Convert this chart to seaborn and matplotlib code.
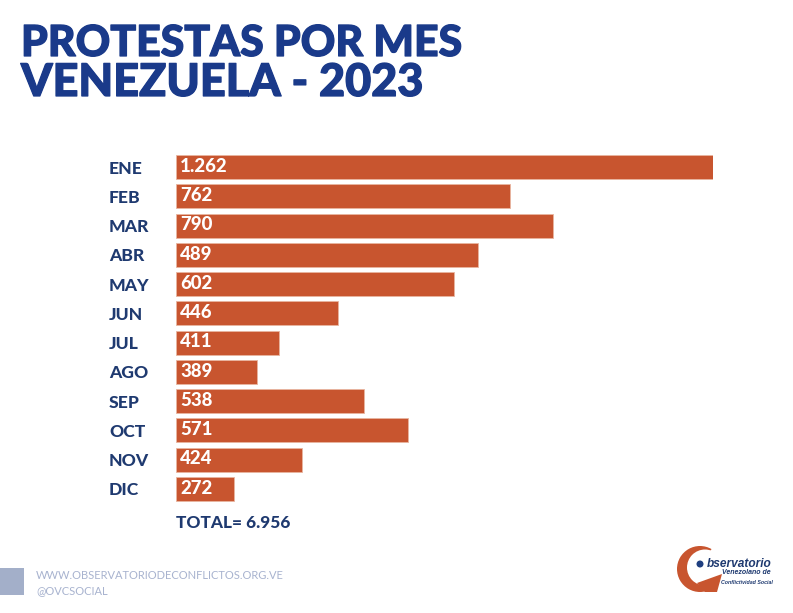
import matplotlib
matplotlib.use("Agg")
import matplotlib.pyplot as plt
import matplotlib.patheffects as pe
from matplotlib.patches import Rectangle, Wedge, Circle, Polygon
import pandas as pd
import seaborn as sns

# ---------------- DATA ----------------
months = ["ENE", "FEB", "MAR", "ABR", "MAY", "JUN", "JUL", "AGO", "SEP", "OCT", "NOV", "DIC"]
# printed numbers
printed = ["1.262", "762", "790", "489", "602", "446", "411", "389", "538", "571", "424", "272"]
# bar lengths as drawn in the picture (they do not follow the printed numbers), ENE = 1262
drawn = [1262, 785, 886, 710, 653, 382, 243, 190, 442, 545, 296, 137]

NAVY = "#1a3a8a"
DARK = "#1f3a70"
ORANGE = "#c8552f"
PALE = "#a8b3cf"
W, H = 793, 613


def fx(px):
    return px / W


def fy(px):
    return 1 - px / H


# ---------------- PLOT ----------------
sns.set_theme(style="white")
plt.rcParams["font.family"] = ["Lato", "DejaVu Sans"]

df = pd.DataFrame({"month": months, "drawn": drawn})

fig = plt.figure(figsize=(7.93, 6.13), dpi=100, facecolor="white")
ax = fig.add_axes([fx(175.6), fy(503.6), fx(537.4), 351.2 / H])

sns.barplot(data=df, x="drawn", y="month", color=ORANGE, saturation=1, width=0.82, ax=ax,
            edgecolor="#e8b5a0", linewidth=0.6)
ax.set_xlim(0, 1262)
ax.set_ylim(11.5, -0.5)
ax.set_xlabel("")
ax.set_ylabel("")
ax.set_xticks([])
sns.despine(ax=ax, left=True, bottom=True)

# month names left aligned, away from the bars
ax.tick_params(axis="y", length=0, pad=47.9)
for lab in ax.get_yticklabels():
    lab.set_ha("left")
    lab.set_fontsize(12.6)
    lab.set_fontweight("black")
    lab.set_color(DARK)

# numbers inside the bars
for i, txt in enumerate(printed):
    ax.annotate(txt, xy=(0, i), xytext=(3.2, 0.6), textcoords="offset points",
                ha="left", va="center", color="white", fontsize=13.4, fontweight="black")

# ---------------- TEXTS ----------------
thick = [pe.withStroke(linewidth=0.9, foreground=NAVY)]
fig.text(fx(21), fy(56), "PROTESTAS POR MES", color=NAVY, fontsize=30.8, fontweight="black",
         va="baseline", path_effects=thick)
fig.text(fx(21), fy(96), "VENEZUELA - 2023", color=NAVY, fontsize=32.4, fontweight="black",
         va="baseline", path_effects=thick)
fig.text(fx(176), fy(528.5), "TOTAL= 6.956", color=DARK, fontsize=12.4, fontweight="black", va="baseline")

fig.text(fx(36), fy(579), "WWW.OBSERVATORIODECONFLICTOS.ORG.VE", color=PALE, fontsize=8.05, va="baseline")
fig.text(fx(36), fy(594), "@OVCSOCIAL", color=PALE, fontsize=8.05, va="baseline")
fig.add_artist(Rectangle((0, fy(595)), fx(24), 27 / H, transform=fig.transFigure, color="#a3afc9", lw=0))

# ---------------- LOGO ----------------
logo = fig.add_axes([0, 0, 1, 1], facecolor="none")
logo.set_xlim(0, W)
logo.set_ylim(H, 0)
logo.axis("off")
logo.add_patch(Wedge((700, 569), 23, 60, 300, color=ORANGE, lw=0))
logo.add_patch(Circle((705, 567.5), 18, color="white", lw=0))
logo.add_patch(Polygon([[697, 583], [722, 574], [717, 592], [705, 592]], color=ORANGE, lw=0))
logo.add_patch(Circle((700, 564), 3.5, color="#1f3f80", lw=0))
logo.text(707, 567, "bservatorio", color=DARK, fontsize=8.6, fontweight="bold", style="italic", va="baseline",
          family=["Liberation Sans"])
logo.text(722, 574.5, "Venezolano de", color=DARK, fontsize=5, fontweight="bold", style="italic", va="baseline",
          family=["Liberation Sans"])
logo.text(721, 584, "Conflictividad Social", color=DARK, fontsize=3.8, fontweight="bold", style="italic",
          va="baseline", family=["Liberation Sans"])

fig.savefig("out.png", dpi=100)
